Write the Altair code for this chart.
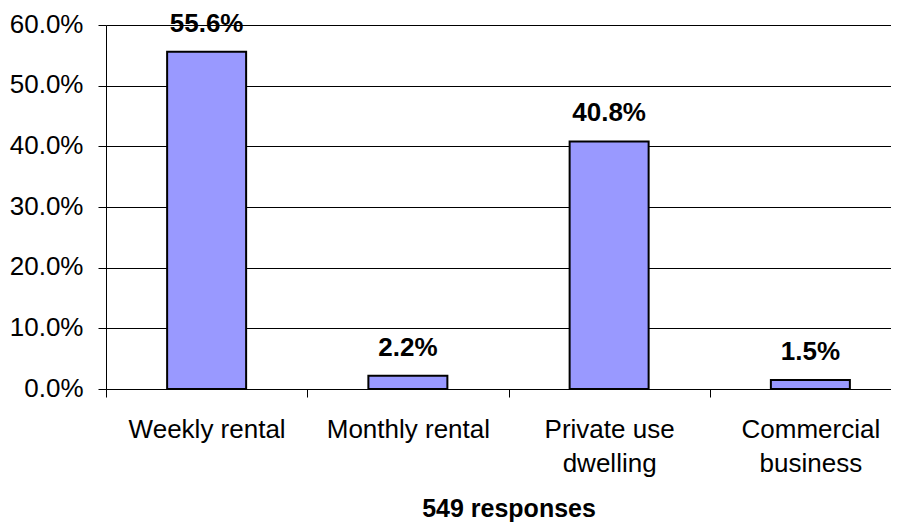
import json
import altair as alt
import pandas as pd

# ---- data ----
categories = ["Weekly rental", "Monthly rental", "Private use dwelling", "Commercial business"]
label_lines = [["Weekly rental"], ["Monthly rental"], ["Private use", "dwelling"], ["Commercial", "business"]]
shares = [0.556, 0.022, 0.408, 0.015]
value_labels = ["55.6%", "2.2%", "40.8%", "1.5%"]
y_ticks = [0.0, 0.1, 0.2, 0.3, 0.4, 0.5, 0.6]
x_title = "549 responses"

df = pd.DataFrame({"category": categories, "share": shares, "label": value_labels})

FONT = "Liberation Sans"
W, H = 785, 364
XR = 805  # band range extends past the visible plot, as in the original

# label expression that splits the long category names onto two lines
expr = "datum.label"
for cat, lines in zip(categories, label_lines):
    expr = f"datum.label == {json.dumps(cat)} ? {json.dumps(lines)} : ({expr})"

x_scale = alt.Scale(paddingInner=0, paddingOuter=0, range=[0, XR])

x_enc = alt.X(
    "category:N",
    sort=categories,
    scale=x_scale,
    axis=alt.Axis(
        title=x_title,
        titleFont=FONT,
        titleFontSize=25,
        titleFontWeight="bold",
        titleColor="black",
        titleX=XR / 2,
        titleY=127,
        titleAlign="center",
        titleBaseline="alphabetic",
        labelExpr=expr,
        labelFont=FONT,
        labelFontSize=26,
        labelColor="black",
        labelAngle=0,
        labelPadding=19,
        labelLineHeight=34,
        tickBand="extent",
        ticks=True,
        tickSize=8,
        tickColor="black",
        domain=True,
        domainColor="black",
        grid=False,
    ),
)

y_enc = alt.Y(
    "share:Q",
    scale=alt.Scale(domain=[0, 0.6], nice=False),
    axis=alt.Axis(
        title=None,
        values=y_ticks,
        format=".1%",
        labelFont=FONT,
        labelFontSize=26,
        labelColor="black",
        labelPadding=15,
        labelOffset=-1,
        tickSize=8,
        tickColor="black",
        domainColor="black",
        grid=True,
        gridColor="black",
        gridOpacity=1,
        gridWidth=1,
    ),
)

bars = alt.Chart(df).mark_bar(
    size=79, color="#9999FF", stroke="black", strokeWidth=2
).encode(x=x_enc, y=y_enc)

texts = alt.Chart(df).mark_text(
    dy=-20, baseline="alphabetic", align="center",
    font=FONT, fontSize=26, fontWeight="bold", color="black"
).encode(x=alt.X("category:N", sort=categories, scale=x_scale), y="share:Q", text="label:N")

chart = alt.layer(bars, texts).properties(
    width=W,
    height=H,
    autosize=alt.AutoSizeParams(type="none"),
    padding={"left": 98, "top": 17, "right": 0, "bottom": 136},
    background="white",
).configure_view(stroke=None)

chart.save("out.html", embed_options={"renderer": "svg", "actions": False})
